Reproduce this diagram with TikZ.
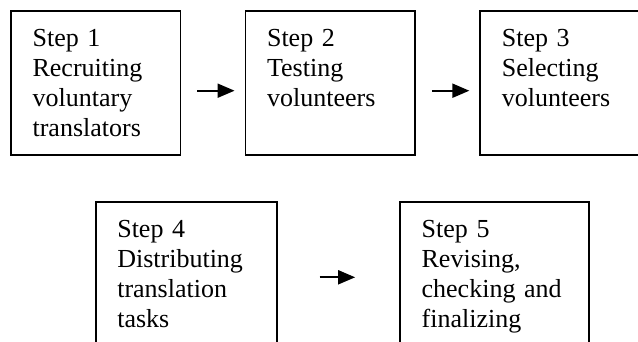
\documentclass[tikz,border=0pt]{standalone}
\usepackage{fontspec}
\setmainfont{Liberation Serif}
\usetikzlibrary{arrows.meta}

\begin{document}
\begin{tikzpicture}[x=0.5pt, y=-0.5pt,
	stepbox/.style={rectangle, draw, line width=0.9pt, align=left, inner xsep=10.8pt,
	inner ysep=0pt, text height=17.85pt, text depth=54.15pt,
	font=\fontsize{13pt}{15pt}\selectfont},
	steparrow/.style={-{Triangle[length=8.5pt, width=7pt]}, line width=1pt}]
			
			\clip (0,0) rectangle (638,342);
			
			%Nodes
			\node (step1) at (95.75, 83) [stepbox, text width=63.15pt] 
			{Step 1\\Recruiting\\voluntary\\translators};
			
			\node (step2) at (330.2, 83) [stepbox, text width=63.15pt] 
			{Step 2\\Testing\\volunteers};
			
			\node (step3) at (565, 83) [stepbox, text width=63.15pt] 
			{Step 3\\Selecting\\volunteers};
			
			\node (step4) at (186.2, 274.3) [stepbox, text width=68.9pt] 
			{Step 4\\Distributing\\translation\\tasks};
			
			\node (step5) at (494.7, 274.3) [stepbox, text width=73.05pt] 
			{Step 5\\Revising,\\checking and\\finalizing};
			
			%Links
			\draw [steparrow, shorten <=8pt, shorten >=5pt] ([yshift=-3.85pt]step1.east) -- 
			([yshift=-3.85pt]step2.west);
			\draw [steparrow, shorten <=8pt, shorten >=5pt] ([yshift=-3.85pt]step2.east) -- 
			([yshift=-3.85pt]step3.west);
			\draw [steparrow, shorten <=21pt, shorten >=22pt] ([yshift=-1.5pt]step4.east) -- 
			([yshift=-1.5pt]step5.west);
			
\end{tikzpicture}
\end{document}
